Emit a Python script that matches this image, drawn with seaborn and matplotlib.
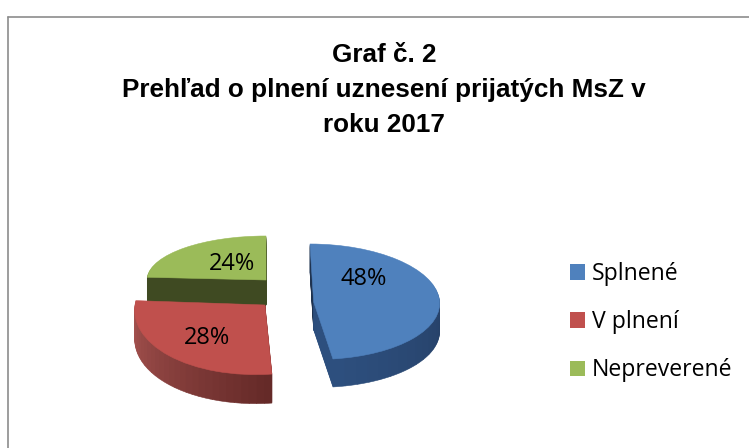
import matplotlib
matplotlib.use('Agg')
import matplotlib.pyplot as plt
from matplotlib.colors import to_rgb
from matplotlib.lines import Line2D
from matplotlib.patches import Patch
from matplotlib.transforms import Affine2D
import numpy as np
import seaborn as sns

# Data
categories = ['Splnené', 'V plnení', 'Nepreverené']
values = [48, 28, 24]
top_colors = ['#4f81bd', '#c0504d', '#9bbb59']

title = 'Graf č. 2\nPrehľad o plnení uznesení prijatých MsZ v\nroku 2017'

# Look of the fake 3D slices, in pixels of the picture
side_dark = ['#1f3350', '#652a28', '#3f4a22']
side_light = ['#2d4f7e', '#aa5552', '#3f4a22']
centers = [(313.6, 301.7), (265, 305), (266, 280)]
radius_x = [126, 130, 119]
radius_y = [57.7, 69.6, 44]
shear = [-3.6, 9.4, 0]
depths = [28, 29, 25]
label_pos = [(364, 279), (207, 338), (232, 264)]
W, H = 749, 448

sns.set_theme(style='white')
plt.rcParams['font.family'] = ['Open Sans', 'DejaVu Sans']

fig = plt.figure(figsize=(W / 100, H / 100), dpi=100)
ax = fig.add_axes([0, 0, 1, 1])


def slice_transform(i, drop=0):
    cx, cy = centers[i]
    m = [[radius_x[i], shear[i], cx],
         [0, radius_y[i], H - cy - drop],
         [0, 0, 1]]
    return Affine2D(np.array(m)) + ax.transData


def draw_part(i, start, parts, colors, drop=0):
    wedges, _ = ax.pie(parts, startangle=90 - 360 * start, counterclock=False,
                       normalize=False, colors=colors, radius=1)
    for w, c in zip(wedges, colors):
        w.set_transform(slice_transform(i, drop))
        w.set_edgecolor(c)
        w.set_linewidth(0.4)


fractions = np.array(values) / sum(values)
starts = np.concatenate([[0], np.cumsum(fractions)[:-1]])

# Back slices first, the blue one does not overlap anything
for i in [2, 1, 0]:
    n = 30
    mix = np.linspace(0, 1, n)
    dark, light = np.array(to_rgb(side_dark[i])), np.array(to_rgb(side_light[i]))
    shades = [tuple(dark + (light - dark) * m) for m in mix]
    for d in range(depths[i], 0, -1):
        draw_part(i, starts[i], [fractions[i] / n] * n, shades, drop=d)
    draw_part(i, starts[i], [fractions[i]], [top_colors[i]])

ax.set_aspect('auto')
ax.set_xlim(0, W)
ax.set_ylim(0, H)
ax.axis('off')

for v, (x, y) in zip(values, label_pos):
    ax.text(x, H - y, f'{v}%', ha='center', va='center', fontsize=17, color='black')

# Title
ax.text(384, H - 90, title, ha='center', va='center', fontsize=18.8, fontweight='bold',
        family='Liberation Sans', color='black', linespacing=1.6)

# Chart frame, only the top and left edges are in the crop
fig.add_artist(Line2D([8 / W, 8 / W], [0, 1 - 17 / H], color='#8c8c8c', lw=1.2))
fig.add_artist(Line2D([8 / W, 1], [1 - 17 / H, 1 - 17 / H], color='#8c8c8c', lw=1.2))

# Legend
handles = [Patch(facecolor=c, edgecolor='none') for c in top_colors]
ax.legend(handles, categories, loc='upper left', bbox_to_anchor=(570 / W, 1 - 262 / H),
          frameon=False, fontsize=16.6, handlelength=0.65, handleheight=0.65, handletextpad=0.3,
          labelspacing=1.05, borderpad=0, borderaxespad=0, labelcolor='black')

fig.savefig('out.png', dpi=100)
